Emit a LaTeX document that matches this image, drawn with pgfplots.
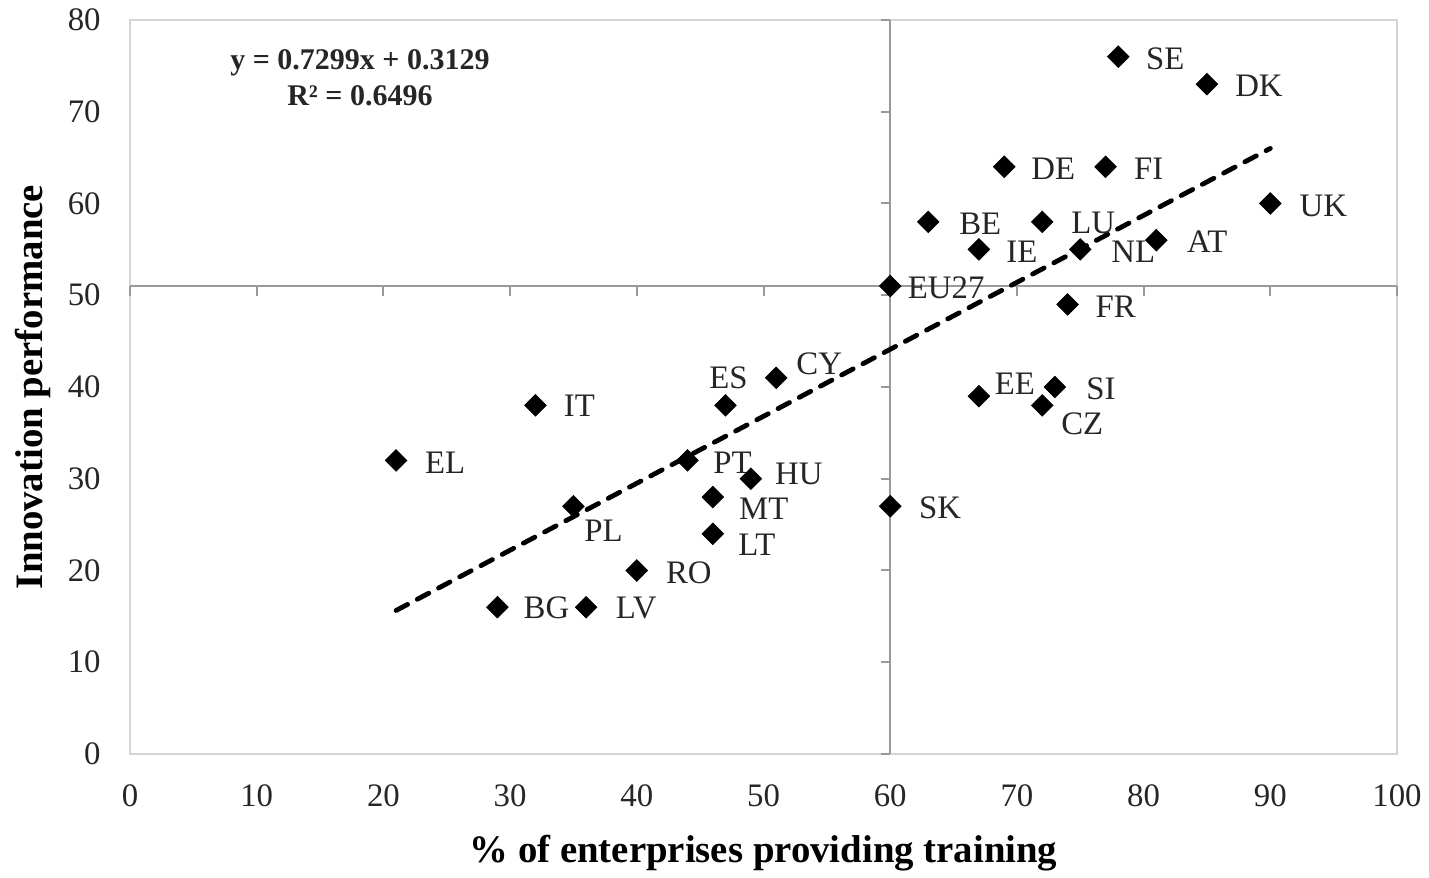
\documentclass[border=0pt]{standalone}
\usepackage{fontspec}
\setmainfont{Liberation Serif}
\usepackage{pgfplots}
\usepackage{pgfplotstable}
\pgfplotsset{compat=1.18}
\definecolor{bordergray}{HTML}{D4D4D4}
\definecolor{linegray}{HTML}{9A9A9A}
\definecolor{txt}{HTML}{262626}

\pgfplotstableread{
x y lab dx dy
78 76 SE 23.5 -1
85 73 DK 26 -1
69 64 DE 24.5 -1
77 64 FI 21.5 -1
90 60 UK 26.5 -1
63 58 BE 26 -1
72 58 LU 25.5 -0.5
67 55 IE 21.5 -1
75 55 NL 26.5 -1
81 56 AT 25.5 -0.5
60 51 EU27 28 -1
74 49 FR 24 -1
67 39 EE 18 6
73 40 SI 23 -1
72 38 CZ 20 -9
51 41 CY 21.5 7
47 38 ES 1.5 14
32 38 IT 22 0
21 32 EL 24.5 -1
44 32 PT 22.5 -1
49 30 HU 24 2.5
46 28 MT 25.5 -6
46 24 LT 22 -5.5
60 27 SK 25 -1
35 27 PL 15 -12
40 20 RO 26 -1
29 16 BG 24.5 -0.5
36 16 LV 25 -0.5
}\countries

\pgfplotstableread{
x y
21 15.6408
90 66.0039
}\trend

\begin{document}
\begin{tikzpicture}
\begin{axis}[
  name=ax,
  scale only axis,
  width=633.5pt, height=367pt,
  xmin=0, xmax=100, ymin=0, ymax=80,
  xtick={0,10,...,100}, ytick={0,10,...,80},
  axis line style={bordergray, line width=1pt},
  major tick length=0pt,
  tick style={draw=none},
  /pgf/number format/assume math mode=true,
  ticklabel style={font=\fontsize{16.4}{19}\selectfont, text=txt, inner sep=0pt},
  xticklabel style={anchor=north, yshift=-15pt},
  yticklabel style={anchor=east, xshift=-14.5pt},
  xlabel={\% of enterprises providing training},
  ylabel={Innovation performance},
  every axis x label/.style={at={(axis description cs:0.5,0)}, yshift=-49.5pt, anchor=center, font=\fontsize{19.4}{22}\selectfont\bfseries},
  every axis y label/.style={at={(axis description cs:0,0.5)}, xshift=-48.5pt, rotate=90, anchor=center, font=\fontsize{19.4}{22}\selectfont\bfseries},
  clip=false,
]
% quadrant lines
\draw[linegray, line width=1pt] (axis cs:60,0) -- (axis cs:60,80);
\draw[linegray, line width=1pt] (axis cs:0,51) -- (axis cs:100,51);
\pgfplotsinvokeforeach{0,10,...,80}{\draw[linegray, line width=1pt] (axis cs:60,#1) -- ++(-4.5pt,0);}
\pgfplotsinvokeforeach{0,10,...,100}{\draw[linegray, line width=1pt] (axis cs:#1,51) -- ++(0,-5pt);}
% trend line
\addplot[black, line width=2.4pt, line cap=round, dash pattern=on 6.5pt off 5.5pt] table[x=x,y=y]{\trend};
% points
\addplot[only marks, mark=square*, mark size=3.8pt, mark options={rotate=45, fill=black, draw=black},
  point meta=explicit symbolic,
  nodes near coords,
  visualization depends on={\thisrow{dx}\as\dx},
  visualization depends on={\thisrow{dy}\as\dy},
  every node near coord/.append style={anchor=center, xshift=\dx pt, yshift=\dy pt, font=\fontsize{16.4}{19}\selectfont, text=txt, inner sep=0pt},
] table[x=x,y=y,meta=lab]{\countries};
% equation
\node[align=center, font=\fontsize{15}{18}\selectfont\bfseries, text=txt] at (rel axis cs:0.1815,0.921) {y = 0.7299x + 0.3129\\R² = 0.6496};
\end{axis}
\path (ax.south west) ++(-65pt,-60pt) coordinate (bl);
\path (ax.north east) ++(16pt,10pt) coordinate (tr);
\path[use as bounding box] (bl) rectangle (tr);
\end{tikzpicture}
\end{document}
